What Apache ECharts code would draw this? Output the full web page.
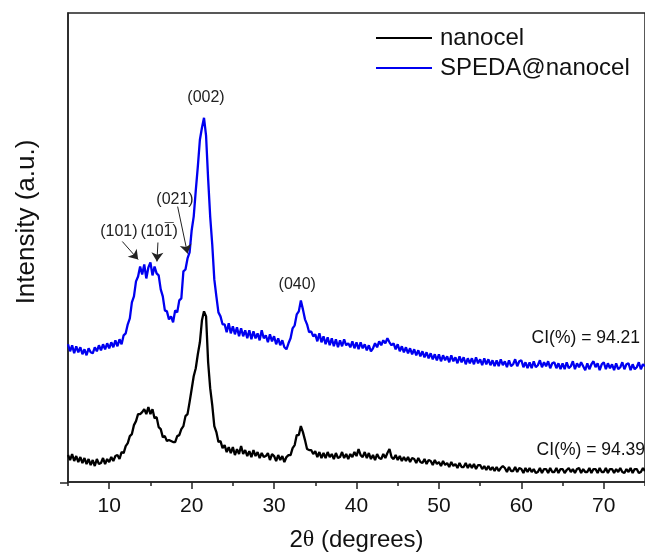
<!DOCTYPE html>
<html>
<head>
<meta charset="utf-8">
<script src="https://cdn.jsdelivr.net/npm/echarts@6/dist/echarts.min.js"></script>
<style>html,body{margin:0;padding:0;background:#fff}#c{width:645px;height:557px}</style>
</head>
<body>
<div id="c"></div>
<script>
// ---- data ----
const angleStart = 5;      // 2θ of first sample (degrees)
const angleStep = 0.25;    // sampling step (degrees)
const seriesNames = ['nanocel', 'SPEDA@nanocel'];
const nanocel = [
27,22,28,21, 26,20,25,19, 24,18,23,17, 22,16,23,18, 19,24,18,23,
20,25,21,26, 27,23,30,29, 36,39,46,48, 57,61,68,68, 70,73,68,75,
68,73,64,65, 55,53,45,46, 41,42,41,40, 40,46,47,53, 56,66,68,80,
93,106,114,128, 140,162,171,166, 120,94,77,56, 50,40,41,34, 37,30,35,29,
35,27,33,28, 36,28,32,26, 31,25,32,26, 30,24,29,25, 26,29,22,28,
26,21,27,22, 26,20,25,27, 27,34,37,47, 47,56,50,42, 33,32,32,28,
31,25,30,24, 29,24,30,25, 28,23,29,24, 25,30,24,28, 23,28,25,30,
26,33,27,25, 30,24,29,23, 27,22,28,24, 23,28,24,29, 33,25,23,27,
22,26,21,25, 21,25,20,24, 23,19,24,20, 19,23,18,22, 21,17,22,18,
20,16,21,17, 19,15,20,16, 18,14,19,15, 15,19,14,18, 14,18,13,17,
17,13,16,12, 16,12,15,11, 15,11,14,16, 14,10,15,11, 11,15,10,14,
13,9,14,10, 14,10,13,9, 10,14,9,13, 13,9,14,10, 10,14,9,13,
13,9,12,14, 10,13,9,13, 14,9,13,10, 10,14,9,13, 13,9,14,10,
10,14,9,13, 13,9,13,10, 14,10,9,13, 10,14,9,13, 13,9,10,14,
11
];
const speda = [
138,131,137,129, 136,130,135,128, 133,127,134,130, 129,135,131,137, 132,138,133,139,
134,140,135,142, 136,143,138,147, 149,158,164,180, 186,201,206,216, 208,218,204,215,
220,207,216,209, 207,193,186,172, 171,163,166,160, 172,170,182,184, 211,213,224,230,
252,266,292,316, 343,355,365,347, 304,266,238,203, 186,170,166,158, 158,150,159,149,
156,148,155,146, 154,146,152,144, 152,143,151,144, 149,142,152,144, 147,140,148,141,
146,138,144,137, 142,135,133,139, 144,154,157,168, 171,182,173,163, 158,150,151,146,
148,141,149,140, 146,138,145,137, 144,136,143,135, 142,136,143,137, 139,135,141,134,
140,133,140,134, 138,132,137,131, 134,139,135,141, 137,142,139,144, 140,137,139,133,
138,131,136,130, 135,129,134,128, 133,127,132,126, 131,125,130,124, 129,123,128,122,
128,121,127,122, 126,120,127,121, 125,119,126,120, 125,118,124,119, 124,118,125,119,
123,117,124,118, 123,117,122,116, 122,116,123,117, 121,115,122,116, 118,123,116,121,
122,115,120,114, 120,114,121,115, 117,122,115,120, 116,121,114,119, 120,114,119,113,
119,113,120,114, 116,121,113,119, 115,120,116,112, 119,113,118,121, 115,119,112,118,
120,113,119,114, 118,112,119,113, 115,120,113,118, 119,112,118,113, 115,120,113,118,
116
];
const xTickValues = [10, 20, 30, 40, 50, 60, 70];
const xMinorTickValues = [5, 15, 25, 35, 45, 55, 65, 75];
const peakLabels = ['(002)', '(021)', '(101)', '(101)', '(040)'];
const ciLabels = ['CI(%) = 94.39', 'CI(%) = 94.21'];

// ---- chart ----
const FONT = '"Liberation Sans", Arial, sans-serif';
const toPairs = arr => arr.map((v, i) => [angleStart + i * angleStep, v]);

const peakAnchors = [[21.74, 385], [17.98, 283], [11.17, 251], [16.05, 251], [32.81, 198]];
const arrows = [
  [[11.59, 241], [13.51, 223]],
  [[15.91, 240], [15.79, 221]],
  [[18.30, 276], [19.50, 229]]
];
const ciAnchors = [[75.0, 32], [74.4, 144]];

const chart = echarts.init(document.getElementById('c'), null, {renderer: 'canvas'});
const peakData = peakLabels.map((t, i) => ({coord: peakAnchors[i], label: {formatter: t}}));
// bar over the last index of (10-1)
peakData.push({coord: peakAnchors[3], label: {formatter: '\u00AF', offset: [10, -1], fontSize: 16}});
const option = {
  animation: false,
  backgroundColor: '#fff',
  textStyle: {fontFamily: FONT},
  grid: {left: 68, top: 13, width: 584, height: 470, show: true, borderColor: '#222', borderWidth: 1.5},
  legend: {
    data: seriesNames,
    orient: 'vertical', left: 376, top: 26, padding: 0,
    itemWidth: 56, itemHeight: 2, itemGap: 6, icon: 'rect',
    textStyle: {fontSize: 24, color: '#111', fontFamily: FONT, padding: [0, 0, 0, 3]}
  },
  xAxis: [{
    type: 'value', min: 5, max: 75, position: 'bottom',
    name: '2{th|θ} (degrees)', nameLocation: 'middle', nameGap: 46,
    nameTextStyle: {fontSize: 24, color: '#111', fontFamily: FONT,
      rich: {th: {fontSize: 24, fontFamily: '"Liberation Serif", serif', color: '#111'}}},
    axisLine: {show: true, lineStyle: {color: '#222', width: 1.5}},
    axisTick: {show: true, length: 7, customValues: xTickValues, lineStyle: {color: '#222', width: 1.5}},
    axisLabel: {show: true, customValues: xTickValues, margin: 14, fontSize: 21, color: '#111', fontFamily: FONT},
    splitLine: {show: false}
  }, {
    type: 'value', min: 5, max: 75, position: 'bottom', gridIndex: 0,
    axisLine: {show: false},
    axisTick: {show: true, length: 4, customValues: xMinorTickValues, lineStyle: {color: '#222', width: 1.5}},
    axisLabel: {show: false},
    splitLine: {show: false}
  }],
  yAxis: {
    type: 'value', min: 0, max: 470,
    axisLine: {show: true, lineStyle: {color: '#222', width: 1.5}},
    axisTick: {show: false}, axisLabel: {show: false}, splitLine: {show: false}
  },
  graphic: [{
    type: 'text', x: 27, y: 222, rotation: Math.PI / 2,
    style: {text: 'Intensity (a.u.)', fontSize: 26, fontFamily: FONT, fill: '#111', align: 'center', verticalAlign: 'middle'}
  }, {
    // short stub of the x axis line left of the frame
    type: 'line', shape: {x1: 60, y1: 483, x2: 68, y2: 483}, style: {stroke: '#222', lineWidth: 1.5}
  }],
  series: [{
    name: seriesNames[0], type: 'line', data: toPairs(nanocel), showSymbol: false,
    color: '#000', lineStyle: {color: '#000', width: 2.3}, z: 3,
    markPoint: {
      symbol: 'circle', symbolSize: 0, silent: true, animation: false,
      label: {show: true, position: 'inside', align: 'right', fontSize: 17.5, color: '#111', fontFamily: FONT},
      data: [{coord: ciAnchors[0], label: {formatter: ciLabels[0]}}]
    }
  }, {
    name: seriesNames[1], type: 'line', data: toPairs(speda), showSymbol: false,
    color: '#0000f0', lineStyle: {color: '#0000f0', width: 2.3}, z: 4,
    markPoint: {
      symbol: 'circle', symbolSize: 0, silent: true, animation: false,
      label: {show: true, position: 'inside', fontSize: 16, color: '#222', fontFamily: FONT},
      data: peakData.concat([{coord: ciAnchors[1], label: {formatter: ciLabels[1], align: 'right', fontSize: 17.5, color: '#111'}}])
    },
    markLine: {
      silent: true, animation: false, symbol: ['none', 'arrow'], symbolSize: 9,
      lineStyle: {color: '#222', width: 1, type: 'solid'}, label: {show: false},
      data: arrows.map(a => [{coord: a[0]}, {coord: a[1]}])
    }
  }]
};
chart.setOption(option);
</script>
</body>
</html>
